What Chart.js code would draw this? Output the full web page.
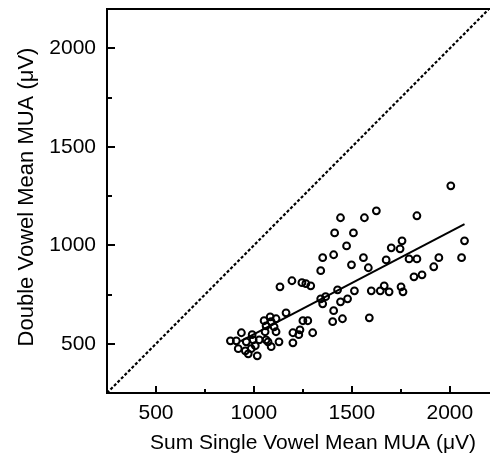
<!DOCTYPE html>
<html>
<head>
<meta charset="utf-8">
<script src="https://cdn.jsdelivr.net/npm/chart.js@4.4.1/dist/chart.umd.min.js"></script>
<style>
  html, body { margin: 0; padding: 0; overflow: hidden; background: #fff; }
  #wrap { width: 495px; height: 460px; }
</style>
</head>
<body>
<div id="wrap"><canvas id="muaChart"></canvas></div>
<script>
// Sum of single-vowel MUA (x) vs double-vowel MUA (y), in microvolts
const sumSingle = [
  2005, 1625, 1442, 1564, 1832, 1412, 1508, 1473, 1756, 1701,
  1746, 2075, 1407, 1351, 1559, 1675, 1792, 1832, 1944, 2060,
  1498, 1584, 1918, 1341, 1133, 1194, 1245, 1265, 1290, 1817,
  1858, 1427, 1513, 1599, 1645, 1665, 1690, 1751, 1761, 1341,
  1366, 1351, 1442, 1478, 1407, 1402, 1452, 1589, 1164, 1083,
  1113, 1052, 1088, 1250, 1275, 1062, 1103, 1235, 1199, 1229,
  1300, 936, 1057, 1113, 991, 996, 1027, 1062, 1072, 1128,
  880, 910, 1199, 1007, 1088, 920, 956, 986, 971, 1017, 961
];
const doubleVowel = [
  1302, 1175, 1140, 1140, 1150, 1063, 1063, 997, 1023, 987,
  982, 1023, 952, 937, 937, 926, 931, 931, 937, 937,
  901, 886, 891, 871, 789, 820, 810, 805, 794, 840,
  850, 774, 769, 769, 769, 794, 764, 789, 764, 728,
  739, 703, 713, 728, 668, 612, 627, 632, 657, 637,
  627, 617, 612, 617, 617, 591, 586, 571, 556, 546,
  556, 556, 561, 561, 546, 520, 520, 520, 510, 510,
  515, 515, 505, 490, 485, 475, 464, 475, 449, 439, 510
];

// regression line end points, unity line end points
const fitX = [930, 2075];
const fitY = [512, 1107];
const unityX = [250, 2200];

// tick positions (major ones labelled)
const tickValues = [500, 750, 1000, 1250, 1500, 1750, 2000];
const labelledTicks = [500, 1000, 1500, 2000];

const xTitle = 'Sum Single Vowel Mean MUA (\u03bcV)';
const yTitle = 'Double Vowel Mean MUA (\u03bcV)';

const FONT = '"Liberation Sans", Arial, Helvetica, sans-serif';

const toPts = (xs, ys) => xs.map((v, i) => ({ x: v, y: ys[i] }));
const setTicks = s => { s.ticks = tickValues.map(v => ({ value: v })); };
const tickLabel = v => labelledTicks.includes(v) ? String(v) : '';

const axisDecor = {
  id: 'axisDecor',
  afterDraw(chart) {
    const { ctx, chartArea: a, scales: { x, y } } = chart;
    ctx.save();
    ctx.setLineDash([]);
    ctx.strokeStyle = '#000';
    ctx.lineWidth = 2;

    // top of the frame
    ctx.beginPath();
    ctx.moveTo(a.left - 1, a.top);
    ctx.lineTo(a.right + 3, a.top);
    ctx.stroke();

    // inward tick marks
    ctx.beginPath();
    tickValues.forEach(v => {
      const major = labelledTicks.includes(v);
      const px = Math.round(x.getPixelForValue(v));
      ctx.moveTo(px, a.bottom);
      ctx.lineTo(px, a.bottom - (major ? 7 : 4));
      const py = Math.round(y.getPixelForValue(v));
      ctx.moveTo(a.left, py);
      ctx.lineTo(a.left + (major ? 8 : 5), py);
    });
    ctx.stroke();

    // axis titles
    ctx.fillStyle = '#000';
    ctx.textAlign = 'center';
    ctx.textBaseline = 'middle';
    ctx.font = '21px ' + FONT;
    ctx.fillText(xTitle, 313, 443);
    ctx.font = '22px ' + FONT;
    ctx.translate(27, 197);
    ctx.rotate(-Math.PI / 2);
    ctx.fillText(yTitle, 0, 0);
    ctx.restore();
  }
};

new Chart(document.getElementById('muaChart').getContext('2d'), {
  type: 'scatter',
  data: {
    datasets: [
      {
        label: 'unity',
        data: toPts(unityX, unityX),
        showLine: true,
        borderColor: '#000',
        borderWidth: 2.2,
        borderDash: [3, 2],
        pointRadius: 0
      },
      {
        label: 'fit',
        data: toPts(fitX, fitY),
        showLine: true,
        borderColor: '#000',
        borderWidth: 2,
        pointRadius: 0
      },
      {
        label: 'sites',
        data: toPts(sumSingle, doubleVowel),
        pointRadius: 3.4,
        pointBorderWidth: 2,
        pointBorderColor: '#000',
        pointBackgroundColor: 'rgba(0,0,0,0)'
      }
    ]
  },
  options: {
    responsive: true,
    maintainAspectRatio: false,
    animation: false,
    layout: { padding: { top: 9, right: 3, left: 0, bottom: 0 } },
    plugins: {
      legend: { display: false },
      tooltip: { enabled: false }
    },
    scales: {
      x: {
        min: 250,
        max: 2200,
        grid: { display: false },
        border: { display: true, color: '#000', width: 2 },
        afterBuildTicks: setTicks,
        ticks: {
          autoSkip: false,
          maxRotation: 0,
          padding: 0,
          color: '#000',
          font: { family: FONT, size: 21 },
          callback: tickLabel
        },
        afterFit: s => { s.height = 67; s.paddingLeft = 0; s.paddingRight = 0; }
      },
      y: {
        min: 250,
        max: 2200,
        grid: { display: false },
        border: { display: true, color: '#000', width: 2 },
        afterBuildTicks: setTicks,
        ticks: {
          autoSkip: false,
          padding: 3,
          color: '#000',
          font: { family: FONT, size: 21 },
          callback: tickLabel
        },
        afterFit: s => { s.width = 107; s.paddingTop = 0; s.paddingBottom = 0; }
      }
    }
  },
  plugins: [axisDecor]
});
</script>
</body>
</html>
